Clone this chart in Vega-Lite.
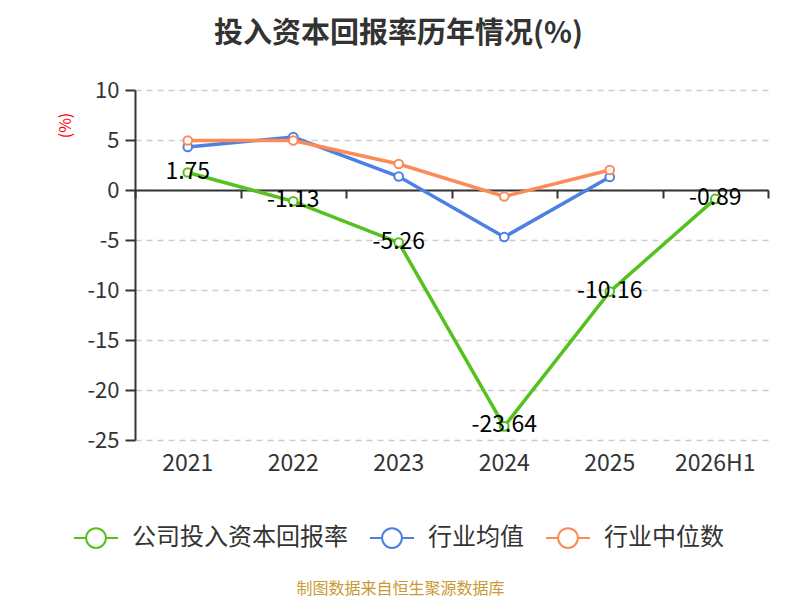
{
  "$schema": "https://vega.github.io/schema/vega-lite/v6.json",
  "description": "投入资本回报率历年情况",
  "autosize": {"type": "none"},
  "width": 633,
  "height": 350,
  "padding": {"left": 135, "top": 90, "right": 32, "bottom": 160},
  "config": {
    "font": "Noto Sans CJK SC",
    "view": {"stroke": null},
    "locale": {
      "number": {"decimal": ".", "thousands": ",", "grouping": [3], "currency": ["", ""], "minus": "-"}
    }
  },
  "title": {
    "text": "投入资本回报率历年情况(%)",
    "fontSize": 29,
    "fontWeight": "bold",
    "color": "#333333",
    "anchor": "middle",
    "frame": "group",
    "dx": -53,
    "offset": 30
  },
  "data": {
    "values": [
      {"year": "2021", "series": "公司投入资本回报率", "value": 1.75},
      {"year": "2022", "series": "公司投入资本回报率", "value": -1.13},
      {"year": "2023", "series": "公司投入资本回报率", "value": -5.26},
      {"year": "2024", "series": "公司投入资本回报率", "value": -23.64},
      {"year": "2025", "series": "公司投入资本回报率", "value": -10.16},
      {"year": "2026H1", "series": "公司投入资本回报率", "value": -0.89},
      {"year": "2021", "series": "行业均值", "value": 4.3},
      {"year": "2022", "series": "行业均值", "value": 5.3},
      {"year": "2023", "series": "行业均值", "value": 1.35},
      {"year": "2024", "series": "行业均值", "value": -4.7},
      {"year": "2025", "series": "行业均值", "value": 1.3},
      {"year": "2021", "series": "行业中位数", "value": 4.95},
      {"year": "2022", "series": "行业中位数", "value": 4.95},
      {"year": "2023", "series": "行业中位数", "value": 2.6},
      {"year": "2024", "series": "行业中位数", "value": -0.65},
      {"year": "2025", "series": "行业中位数", "value": 2.0}
    ]
  },
  "resolve": {"axis": {"x": "independent"}},
  "layer": [
    {
      "mark": {"type": "point", "opacity": 0},
      "encoding": {
        "x": {
          "field": "year",
          "type": "ordinal",
          "sort": null,
          "scale": {"type": "band", "paddingInner": 0, "paddingOuter": 0},
          "axis": {
            "orient": "bottom",
            "offset": -250,
            "labels": false,
            "ticks": true,
            "tickBand": "extent",
            "tickSize": 8,
            "tickWidth": 2,
            "tickColor": "#333333",
            "domain": true,
            "domainColor": "#333333",
            "domainWidth": 2,
            "grid": false,
            "title": null
          }
        },
        "y": {"field": "value", "type": "quantitative"}
      }
    },
    {
      "mark": {
        "type": "line",
        "strokeWidth": 3.5,
        "point": {"filled": false, "fill": "white", "size": 75, "strokeWidth": 2}
      },
      "encoding": {
        "x": {
          "field": "year",
          "type": "ordinal",
          "sort": null,
          "bandPosition": 0.5,
          "axis": {
            "orient": "bottom",
            "domain": false,
            "ticks": false,
            "grid": false,
            "labelAngle": 0,
            "labelFontSize": 23,
            "labelColor": "#333333",
            "labelPadding": 12,
            "title": "制图数据来自恒生聚源数据库",
            "titleFontSize": 16,
            "titleFontWeight": "normal",
            "titleColor": "#c99a34",
            "titleX": 265,
            "titleY": 148,
            "titleBaseline": "middle"
          }
        },
        "y": {
          "field": "value",
          "type": "quantitative",
          "scale": {"domain": [-25, 10], "nice": false, "zero": false},
          "axis": {
            "values": [-25, -20, -15, -10, -5, 0, 5, 10],
            "labelFontSize": 22,
            "labelColor": "#333333",
            "labelPadding": 6,
            "tickSize": 10,
            "tickWidth": 2,
            "tickColor": "#333333",
            "domainColor": "#333333",
            "domainWidth": 2,
            "grid": true,
            "gridColor": "#cccccc",
            "gridDash": [6, 5],
            "gridWidth": 1.5,
            "title": "(%)",
            "titleColor": "red",
            "titleFontSize": 16,
            "titleFontWeight": "normal",
            "titleX": -62,
            "titleY": 35,
            "titleAngle": -90
          }
        },
        "color": {
          "field": "series",
          "type": "nominal",
          "scale": {
            "domain": ["公司投入资本回报率", "行业均值", "行业中位数"],
            "range": ["#55c11f", "#4e80e4", "#fc8b57"]
          },
          "legend": {
            "orient": "none",
            "direction": "horizontal",
            "legendX": -62,
            "legendY": 425,
            "title": null,
            "labelFontSize": 24,
            "labelColor": "#333333",
            "labelLimit": 400,
            "symbolType": "M-1,0L-0.45,0M0.45,0L1,0M-0.45,0A0.45,0.45,0,1,1,0.45,0A0.45,0.45,0,1,1,-0.45,0Z",
            "symbolSize": 1936,
            "symbolStrokeWidth": 2,
            "symbolFillColor": "white",
            "labelOffset": 13,
            "columnPadding": 18
          }
        }
      }
    },
    {
      "transform": [{"filter": "datum.series === '公司投入资本回报率'"}],
      "mark": {"type": "text", "fontSize": 23, "color": "black", "align": "center", "baseline": "middle", "dy": -1},
      "encoding": {
        "x": {"field": "year", "type": "ordinal", "sort": null, "bandPosition": 0.5, "axis": null},
        "y": {"field": "value", "type": "quantitative"},
        "text": {"field": "value", "type": "quantitative", "format": ".2f"}
      }
    }
  ]
}
